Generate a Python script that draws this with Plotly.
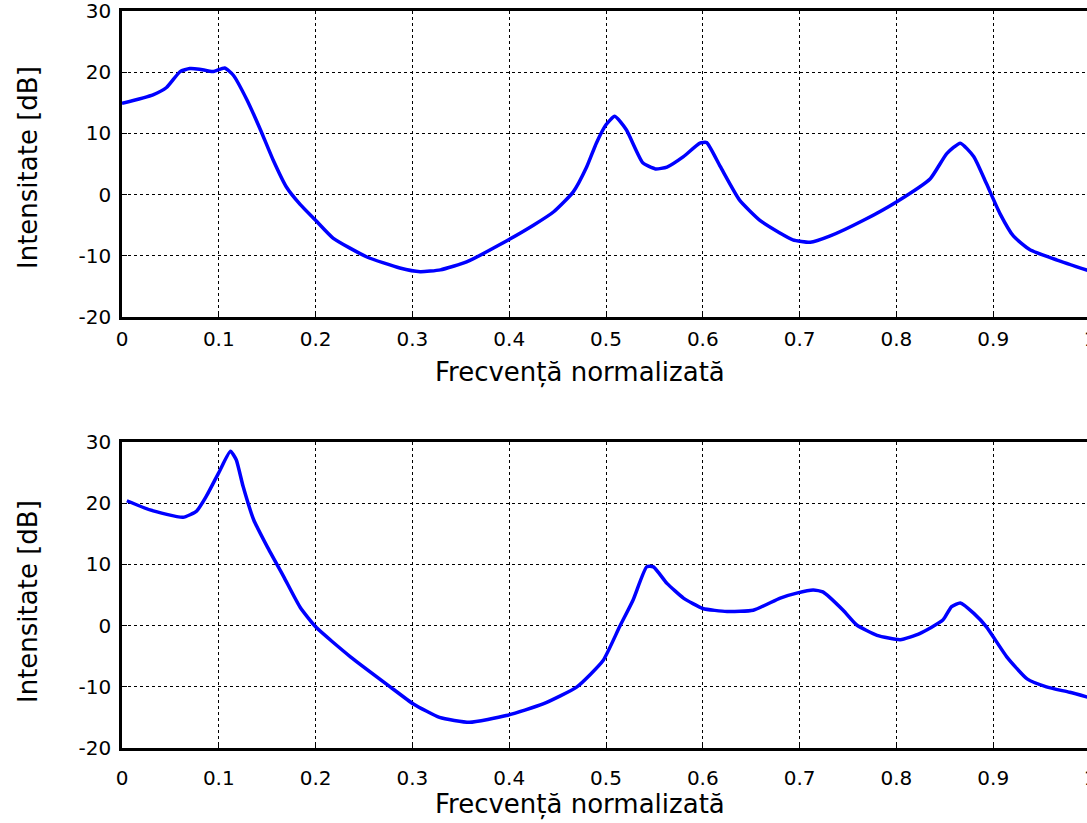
import plotly.graph_objects as go
from plotly.subplots import make_subplots

# Top spectrum
x_top = [0.0, 0.032, 0.046, 0.06, 0.07, 0.08, 0.094, 0.106, 0.115, 0.129, 0.143, 0.156, 0.17,
         0.184, 0.2, 0.218, 0.253, 0.287, 0.308, 0.329, 0.356, 0.39, 0.425, 0.446, 0.466, 0.48,
         0.49, 0.5, 0.509, 0.521, 0.538, 0.551, 0.563, 0.58, 0.597, 0.604, 0.618, 0.638, 0.659,
         0.68, 0.693, 0.711, 0.731, 0.766, 0.8, 0.835, 0.852, 0.866, 0.88, 0.893, 0.907, 0.921,
         0.938, 0.966, 1.0]
y_top = [14.9, 16.3, 17.5, 20.1, 20.6, 20.5, 20.1, 20.7, 19.5, 15.5, 10.6, 5.7, 1.2,
         -1.6, -4.2, -7.1, -10.2, -12.0, -12.6, -12.3, -11.0, -8.2, -5.0, -2.8, 0.4, 4.5,
         8.4, 11.4, 12.8, 10.6, 5.2, 4.2, 4.5, 6.2, 8.4, 8.5, 4.6, -0.9, -4.2,
         -6.3, -7.4, -7.8, -6.8, -4.2, -1.2, 2.6, 6.7, 8.4, 6.2, 1.8, -3.1, -6.8,
         -9.0, -10.7, -12.5]

# Bottom spectrum
x_bot = [0.005, 0.029, 0.063, 0.077, 0.087, 0.1, 0.112, 0.118, 0.125, 0.136, 0.15, 0.167, 0.184,
         0.2, 0.236, 0.277, 0.301, 0.328, 0.359, 0.397, 0.435, 0.47, 0.497, 0.514, 0.528, 0.542,
         0.549, 0.563, 0.58, 0.6, 0.625, 0.652, 0.68, 0.697, 0.714, 0.724, 0.745, 0.759, 0.78,
         0.804, 0.824, 0.848, 0.857, 0.866, 0.88, 0.893, 0.914, 0.935, 0.955, 0.979, 1.0]
y_bot = [20.4, 18.9, 17.7, 18.7, 21.1, 25.0, 28.5, 27.1, 22.8, 17.3, 12.9, 8.0, 3.0,
         -0.2, -5.1, -10.0, -12.8, -15.0, -15.8, -14.7, -12.8, -10.0, -5.7, -0.2, 4.2, 9.6,
         9.6, 6.9, 4.5, 2.8, 2.3, 2.5, 4.5, 5.3, 5.8, 5.5, 2.5, 0.1, -1.6,
         -2.3, -1.3, 0.9, 3.1, 3.7, 2.0, -0.2, -5.1, -8.7, -10.0, -10.9, -11.8]

x_ticks = [0, 0.1, 0.2, 0.3, 0.4, 0.5, 0.6, 0.7, 0.8, 0.9, 1]
x_ticktext = ["0", "0.1", "0.2", "0.3", "0.4", "0.5", "0.6", "0.7", "0.8", "0.9", "1"]
y_ticks = [-20, -10, 0, 10, 20, 30]
y_ticktext = ["-20", "-10", "0", "10", "20", "30"]
x_title = "Frecvență normalizată"
y_title = "Intensitate [dB]"

W, H = 1100, 823
fig = make_subplots(rows=2, cols=1)
fig.add_trace(go.Scatter(x=x_top, y=y_top, mode="lines",
                         line=dict(color="#0000FF", width=3.5, shape="spline", smoothing=0.5)),
              row=1, col=1)
fig.add_trace(go.Scatter(x=x_bot, y=y_bot, mode="lines",
                         line=dict(color="#0000FF", width=3.5, shape="spline", smoothing=0.5)),
              row=2, col=1)

font = dict(family="DejaVu Sans, sans-serif", color="black")
xd = [122 / W, 1090 / W]
doms = [[1 - 317 / H, 1 - 11 / H], [1 - 748 / H, 1 - 442 / H]]
xstand = [2, 10]
for r, dom, xs in zip([1, 2], doms, xstand):
    fig.update_xaxes(row=r, col=1, range=[0, 1], domain=xd, tickvals=x_ticks, ticktext=x_ticktext,
                     showgrid=True, gridcolor="black", griddash="dot", gridwidth=1,
                     showline=True, mirror=True, linecolor="black", linewidth=2.5,
                     ticks="inside", ticklen=5, tickcolor="black", zeroline=False,
                     tickfont=dict(size=20, **font), automargin=False, ticklabelstandoff=xs,
                     ticklabeloverflow="allow")
    fig.update_yaxes(row=r, col=1, range=[-20, 30], domain=dom, tickvals=y_ticks,
                     ticktext=y_ticktext,
                     showgrid=True, gridcolor="black", griddash="dot", gridwidth=1,
                     showline=True, mirror=True, linecolor="black", linewidth=2.5,
                     ticks="inside", ticklen=5, tickcolor="black", zeroline=False,
                     tickfont=dict(size=20, **font), automargin=False, ticklabelstandoff=4,
                     ticklabeloverflow="allow")

# axis titles placed as paper annotations (positions match the reference)
for yc in [372, 804]:
    fig.add_annotation(text=x_title, xref="paper", yref="paper", x=580 / W, y=1 - yc / H,
                       xanchor="center", yanchor="middle", showarrow=False,
                       font=dict(size=26, **font))
for yc in [168, 602]:
    fig.add_annotation(text=y_title, xref="paper", yref="paper", x=28 / W, y=1 - yc / H,
                       xanchor="center", yanchor="middle", showarrow=False, textangle=-90,
                       font=dict(size=26, **font))

fig.update_layout(width=W, height=H, margin=dict(l=0, r=0, t=0, b=0),
                  plot_bgcolor="white", paper_bgcolor="white", showlegend=False)

fig.write_html("out.html", post_script="document.body.style.overflow='hidden';document.body.style.margin='0';")
